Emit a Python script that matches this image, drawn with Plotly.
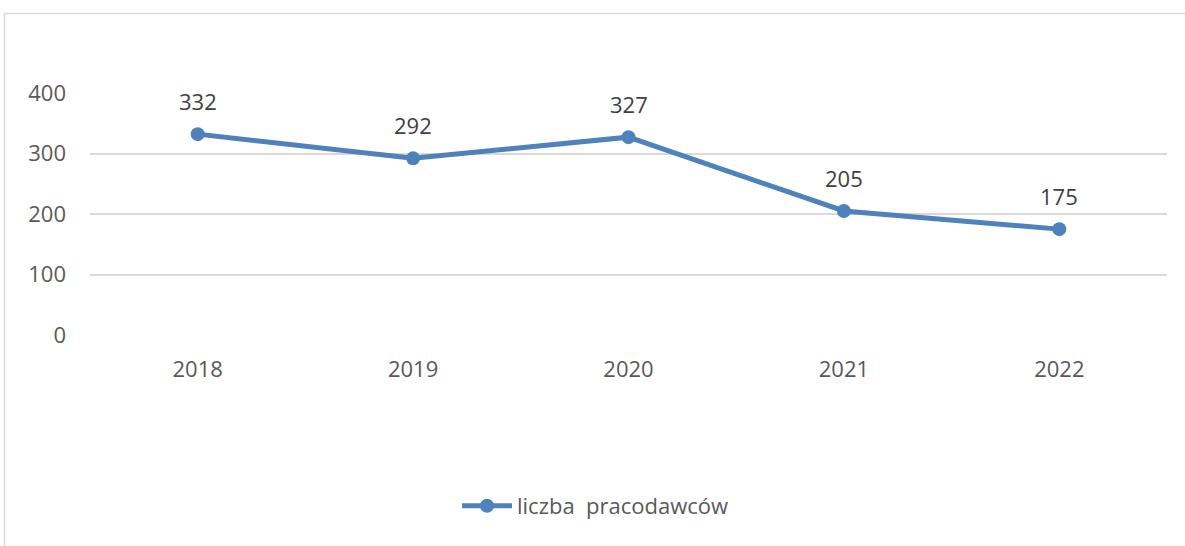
import plotly.graph_objects as go

years = ["2018", "2019", "2020", "2021", "2022"]
employers = [332, 292, 327, 205, 175]
y_ticks = [0, 100, 200, 300, 400]
series_name = "liczba  pracodawców"

LINE = "#4f81bd"
TEXT = "#595959"
FONT = "Open Sans, Liberation Sans, sans-serif"
FS = 22

fig = go.Figure()
fig.add_trace(go.Scatter(
    x=years, y=employers, name=series_name,
    mode="lines+markers",
    line=dict(color=LINE, width=5),
    marker=dict(color=LINE, size=14),
    cliponaxis=False,
))

# value labels above each point (x given as category index)
for i, v in enumerate(employers):
    fig.add_annotation(x=i, y=v, xref="x", yref="y", text=str(v), showarrow=False, yshift=33,
                       font=dict(size=FS, color="#404040", family=FONT))

W, H = 1185, 546
L, R, T, B = 90, 18, 93, 211
pw, ph = W - L - R, H - T - B

def px_x(p):
    return (p - L) / pw

def px_y(p):
    return (H - B - p) / ph

fig.update_layout(
    width=W, height=H,
    margin=dict(l=L, r=R, t=T, b=B),
    paper_bgcolor="white", plot_bgcolor="white",
    font=dict(family=FONT, size=FS, color=TEXT),
    showlegend=True,
    legend=dict(orientation="h", x=px_x(457), y=px_y(506), xanchor="left", yanchor="middle",
                font=dict(size=FS, color=TEXT), itemwidth=50),
    xaxis=dict(type="category", range=[-0.5, 4.5], showgrid=False, zeroline=False,
               showline=False, ticks="", tickfont=dict(size=FS, color=TEXT)),
    yaxis=dict(range=[0, 400], tickvals=y_ticks, showgrid=True, gridcolor="#d9d9d9",
               gridwidth=1.5, zeroline=False, showline=False, ticks="",
               ticklen=0, tickfont=dict(size=FS, color=TEXT)),
    shapes=[dict(type="rect", xref="paper", yref="paper",
                 x0=px_x(4.5), x1=px_x(1195), y0=px_y(13.5), y1=px_y(560),
                 line=dict(color="#d9d9d9", width=1.5), fillcolor="rgba(0,0,0,0)", layer="below")],
)
fig.update_yaxes(ticklabelstandoff=23)
fig.update_xaxes(ticklabelstandoff=19)

fig.write_html("out.html")
